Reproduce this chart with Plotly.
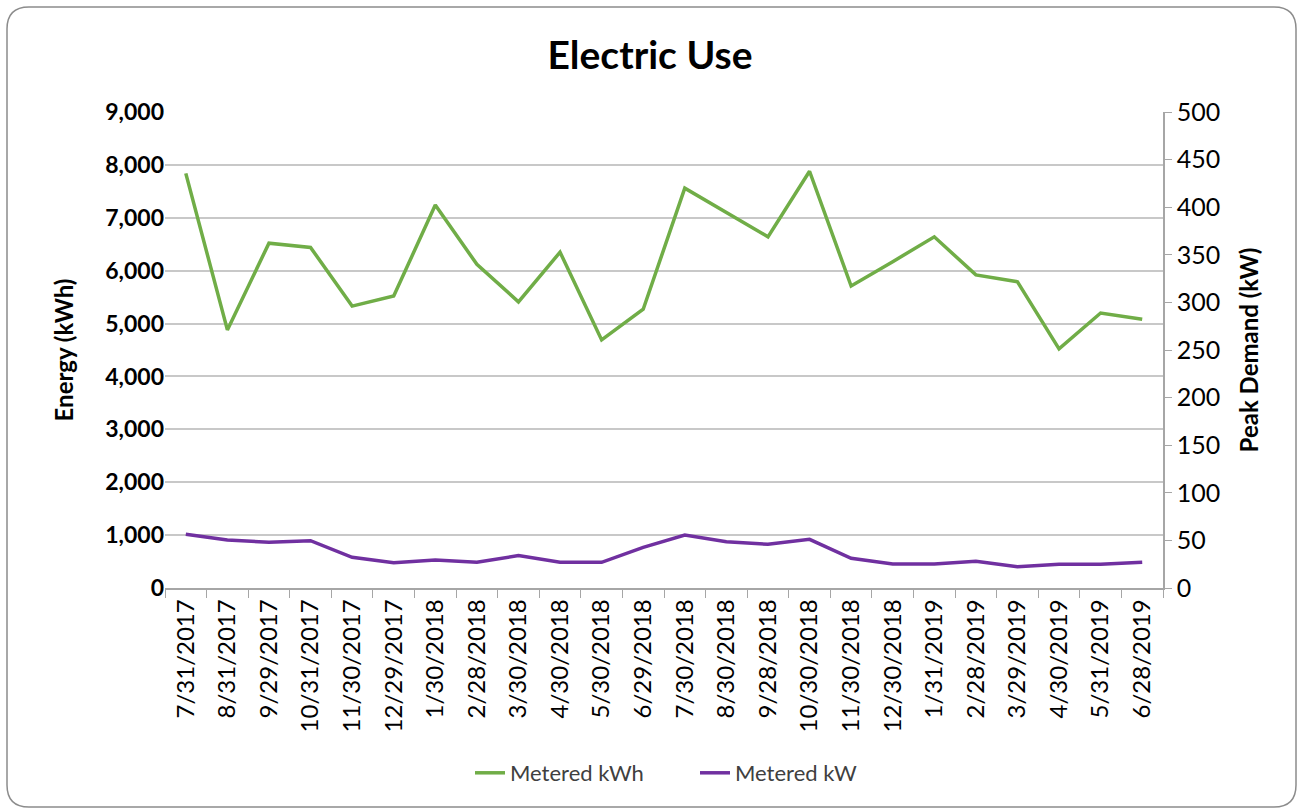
import plotly.graph_objects as go

# Billing-period end dates
dates = ["7/31/2017", "8/31/2017", "9/29/2017", "10/31/2017", "11/30/2017", "12/29/2017",
         "1/30/2018", "2/28/2018", "3/30/2018", "4/30/2018", "5/30/2018", "6/29/2018",
         "7/30/2018", "8/30/2018", "9/28/2018", "10/30/2018", "11/30/2018", "12/30/2018",
         "1/31/2019", "2/28/2019", "3/29/2019", "4/30/2019", "5/31/2019", "6/28/2019"]

# Monthly energy (kWh)
metered_kwh = [7840, 4880, 6520, 6440, 5330, 5520, 7240, 6120, 5410, 6350, 4690, 5270,
               7560, 7100, 6640, 7880, 5710, 6170, 6640, 5920, 5790, 4520, 5200, 5080]

# Monthly peak demand (kW)
metered_kw = [56.4, 50.4, 48.0, 49.7, 32.2, 26.6, 29.4, 27.0, 34.0, 27.0, 27.0, 42.7,
              55.7, 48.7, 45.9, 51.1, 31.2, 25.2, 25.2, 28.0, 22.4, 24.9, 24.9, 27.0]

GREEN = "#70AD47"
PURPLE = "#7030A0"
FONT = "Lato"
TXT = "#000000"

fig = go.Figure()
fig.add_trace(go.Scatter(x=dates, y=metered_kwh, name="Metered kWh", mode="lines",
                         line=dict(color=GREEN, width=3.5), yaxis="y"))
fig.add_trace(go.Scatter(x=dates, y=metered_kw, name="Metered kW", mode="lines",
                         line=dict(color=PURPLE, width=3.5), yaxis="y2"))

L, R, T, B = 165, 137, 112, 222
W, H = 1300, 810
pw, ph = W - L - R, H - T - B

def px(x):
    return (x - L) / pw

def py(y):
    return (H - B - y) / ph

# Rounded outer frame of the chart
x0, x1, y0, y1, r = 7, 1296, 7, 807, 22
path = (f"M {px(x0 + r)} {py(y0)} L {px(x1 - r)} {py(y0)} "
        f"Q {px(x1)} {py(y0)} {px(x1)} {py(y0 + r)} "
        f"L {px(x1)} {py(y1 - r)} Q {px(x1)} {py(y1)} {px(x1 - r)} {py(y1)} "
        f"L {px(x0 + r)} {py(y1)} Q {px(x0)} {py(y1)} {px(x0)} {py(y1 - r)} "
        f"L {px(x0)} {py(y0 + r)} Q {px(x0)} {py(y0)} {px(x0 + r)} {py(y0)} Z")

fig.update_layout(
    width=W, height=H,
    margin=dict(l=L, r=R, t=T, b=B),
    paper_bgcolor="white", plot_bgcolor="white",
    font=dict(family=FONT, color=TXT),
    title=dict(text="<b>Electric Use</b>", x=0.5, xanchor="center", y=0.932, yanchor="middle",
               font=dict(size=39, family=FONT, color=TXT)),
    xaxis=dict(type="category", range=[-0.5, len(dates) - 0.5], tickangle=-90,
               tickfont=dict(size=24, color=TXT),
               showline=True, linecolor="#A6A6A6", linewidth=1.5,
               ticks="outside", tickson="boundaries", ticklen=8, tickcolor="#A6A6A6",
               showgrid=False, zeroline=False),
    yaxis=dict(range=[0, 9000], dtick=1000, tickformat=",d",
               tickfont=dict(size=23, color=TXT, family=FONT), tickprefix="<b>", ticksuffix="</b>",
               showgrid=True, gridcolor="#C8C8C8", gridwidth=1.5,
               showline=False, ticks="", zeroline=False,
               title=dict(text="<b>Energy (kWh)</b>", font=dict(size=24, color=TXT), standoff=24)),
    yaxis2=dict(range=[0, 500], dtick=50, overlaying="y", side="right",
                tickfont=dict(size=25, color=TXT),
                showgrid=False, showline=True, linecolor="#A6A6A6", linewidth=1.5,
                ticks="outside", ticklen=7, tickcolor="#A6A6A6", zeroline=False,
                title=dict(text="<b>Peak Demand (kW)</b>", font=dict(size=24, color=TXT), standoff=22)),
    legend=dict(orientation="h", x=px(470), xanchor="left", y=py(773), yanchor="middle",
                font=dict(size=22, color="#404040"), traceorder="normal",
                entrywidth=180, entrywidthmode="pixels"),
    shapes=[dict(type="path", path=path, xref="paper", yref="paper",
                 line=dict(color="#8C8C8C", width=1.5), fillcolor="rgba(0,0,0,0)", layer="below")],
)

fig.write_html("out.html")
